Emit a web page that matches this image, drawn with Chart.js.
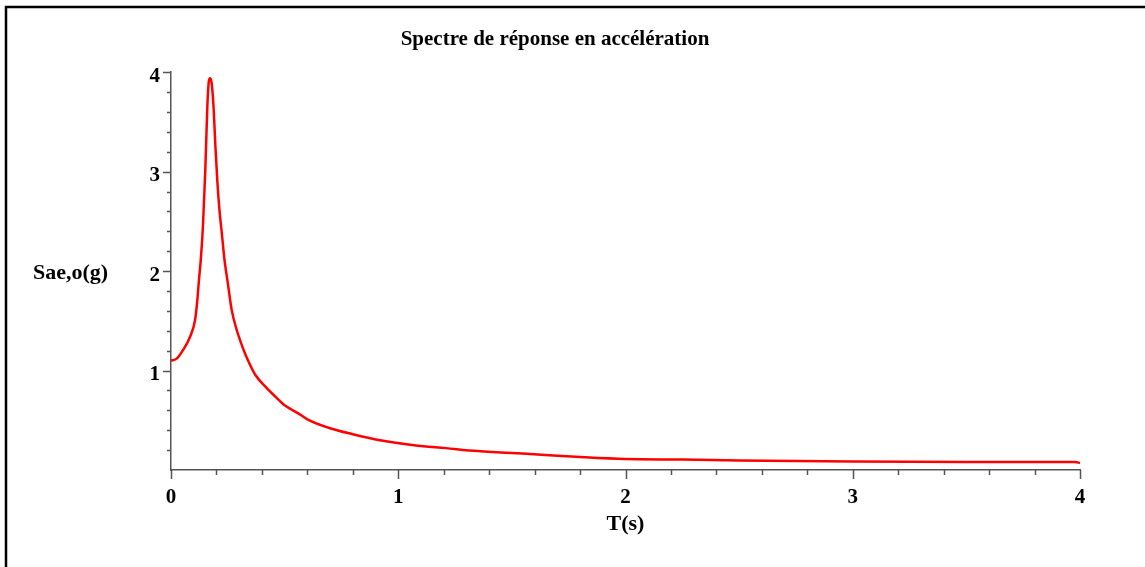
<!DOCTYPE html>
<html>
<head>
<meta charset="utf-8">
<title>Spectre de réponse en accélération</title>
<script src="https://cdn.jsdelivr.net/npm/chart.js@4.4.0/dist/chart.umd.min.js"></script>
<style>
  html, body { margin: 0; padding: 0; background: #fff; }
</style>
</head>
<body>
<canvas id="chart" width="1145" height="567"></canvas>
<script>
'use strict';

// period T (s) and spectral acceleration Sae,o (g)
let periods = [0, 0.025, 0.054, 0.084, 0.106, 0.116, 0.123, 0.131, 0.141, 0.151,
  0.160, 0.166, 0.172, 0.179, 0.188, 0.195, 0.204, 0.213, 0.225, 0.235,
  0.250, 0.267, 0.289, 0.319, 0.341, 0.370, 0.414, 0.458, 0.50, 0.56,
  0.60, 0.70, 0.80, 0.92, 1.07, 1.21, 1.35, 1.58, 1.80, 2.00,
  2.25, 2.50, 3.00, 3.50, 3.98, 4.0];
let sae = [1.10, 1.12, 1.21, 1.34, 1.51, 1.71, 1.91, 2.11, 2.47, 3.02,
  3.66, 3.90, 3.94, 3.89, 3.62, 3.27, 2.90, 2.62, 2.35, 2.12,
  1.88, 1.61, 1.41, 1.21, 1.09, 0.96, 0.84, 0.74, 0.65, 0.57,
  0.51, 0.42, 0.36, 0.30, 0.25, 0.22, 0.19, 0.16, 0.13, 0.11,
  0.105, 0.095, 0.085, 0.08, 0.08, 0.07];

let xTicks = [0, 1, 2, 3, 4];
let yTicks = [1, 2, 3, 4];

let titleText = 'Spectre de réponse en accélération';
let xTitle = 'T(s)';
let yTitle = 'Sae,o(g)';

let canvasElem = document.getElementById('chart');
let serif = '"Liberation Serif", "Times New Roman", serif';
let axisGray = '#555';

// frame, minor/major tick marks and the horizontal y label
let decorPlugin = {
  id: 'decor',
  beforeDraw(chart) {
    let ctx = chart.ctx;
    ctx.save();
    ctx.fillStyle = '#fff';
    ctx.fillRect(0, 0, chart.width, chart.height);
    ctx.restore();
  },
  afterDraw(chart) {
    let ctx = chart.ctx;
    let xs = chart.scales.x;
    let ys = chart.scales.y;
    let area = chart.chartArea;
    ctx.save();

    // ticks, 5 subdivisions per unit
    ctx.strokeStyle = axisGray;
    ctx.lineWidth = 1.5;
    ctx.beginPath();
    for (let i = 0; i <= 20; i++) {
      let px = Math.round(xs.getPixelForValue(i / 5)) + 0.5;
      let len = (i % 5 === 0) ? 9 : 5;
      ctx.moveTo(px, area.bottom);
      ctx.lineTo(px, area.bottom + len);
    }
    for (let i = 1; i <= 20; i++) {
      let py = Math.round(ys.getPixelForValue(i / 5)) + 0.5;
      let len = (i % 5 === 0) ? 8 : 4;
      ctx.moveTo(area.left, py);
      ctx.lineTo(area.left - len, py);
    }
    ctx.stroke();

    // frame (left and top)
    ctx.strokeStyle = '#000';
    ctx.lineWidth = 2.5;
    ctx.beginPath();
    ctx.moveTo(6, chart.height);
    ctx.lineTo(6, 7);
    ctx.lineTo(chart.width, 7);
    ctx.stroke();

    // y axis label, written horizontally
    ctx.fillStyle = '#000';
    ctx.font = 'bold 22px ' + serif;
    ctx.textAlign = 'left';
    ctx.textBaseline = 'middle';
    ctx.fillText(yTitle, 33, 273);
    ctx.restore();
  }
};

let points = [];
for (let i = 0; i < periods.length; i++) {
  points.push({ x: periods[i], y: sae[i] });
}

let chartObj = {
  type: 'line',
  data: {
    datasets: [{
      label: yTitle,
      data: points,
      borderColor: '#ff0000',
      borderWidth: 2.5,
      pointRadius: 0,
      fill: false,
      cubicInterpolationMode: 'monotone'
    }]
  },
  options: {
    responsive: false,
    animation: false,
    layout: { padding: { left: 30, right: 65, top: 0, bottom: 29 } },
    plugins: {
      legend: { display: false },
      tooltip: { enabled: false },
      title: {
        display: true,
        text: titleText,
        color: '#000',
        font: { family: serif, size: 21, weight: 'bold' },
        padding: { top: 27, bottom: 20 }
      }
    },
    scales: {
      x: {
        type: 'linear',
        min: 0,
        max: 4,
        afterBuildTicks: (s) => { s.ticks = xTicks.map(v => ({ value: v })); },
        afterFit: (s) => { s.height = 68; },
        grid: { display: false, drawTicks: false },
        border: { display: true, color: axisGray, width: 1.5 },
        ticks: {
          color: '#000',
          padding: 15,
          maxRotation: 0,
          font: { family: serif, size: 21, weight: 'bold' }
        },
        title: {
          display: true,
          text: xTitle,
          color: '#000',
          font: { family: serif, size: 22, weight: 'bold' },
          padding: { top: 0, bottom: 0 }
        }
      },
      y: {
        type: 'linear',
        min: 0,
        max: 4,
        afterBuildTicks: (s) => { s.ticks = yTicks.map(v => ({ value: v })); },
        afterFit: (s) => { s.width = 141; },
        grid: { display: false, drawTicks: false },
        border: { display: true, color: axisGray, width: 1.5 },
        ticks: {
          color: '#000',
          padding: 11,
          labelOffset: 4,
          font: { family: serif, size: 21, weight: 'bold' }
        }
      }
    }
  },
  plugins: [decorPlugin]
};

new Chart(canvasElem, chartObj);
</script>
</body>
</html>
